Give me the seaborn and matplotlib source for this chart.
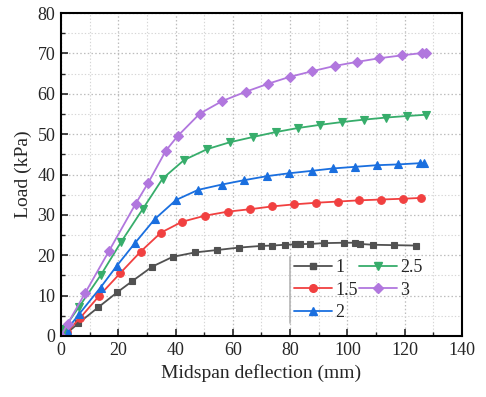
import numpy as np
import pandas as pd
import matplotlib
matplotlib.use("Agg")
import matplotlib.pyplot as plt
from matplotlib.ticker import MultipleLocator
from matplotlib.lines import Line2D
import seaborn as sns

# ---- data ----
labels = ["1", "1.5", "2", "2.5", "3"]

x1 = [0, 2.0, 6.0, 13.0, 19.6, 24.9, 31.9, 39.0, 46.8, 54.6, 62.2, 69.7, 73.8, 78.2,
      81.7, 83.4, 86.9, 91.7, 98.9, 102.6, 104.4, 108.8, 116.2, 123.8]
y1 = [0, 0.7, 3.1, 7.1, 10.8, 13.6, 17.2, 19.6, 20.7, 21.3, 21.9, 22.3, 22.4, 22.6,
      22.7, 22.75, 22.8, 23.0, 23.1, 23.1, 22.8, 22.6, 22.5, 22.4]

x15 = [0, 2.0, 6.6, 13.4, 20.6, 27.8, 34.9, 42.3, 50.3, 58.2, 66.0, 73.8, 81.4, 89.0,
       96.6, 104.1, 111.7, 119.5, 125.7]
y15 = [0, 1.0, 4.4, 10.0, 15.5, 20.9, 25.6, 28.3, 29.8, 30.8, 31.4, 32.1, 32.6, 33.0,
       33.3, 33.6, 33.8, 34.0, 34.2]

x2 = [0, 2.0, 6.3, 13.8, 19.4, 25.8, 32.8, 40.2, 47.9, 56.1, 64.0, 72.0, 79.6, 87.5,
      95.0, 102.6, 110.2, 117.7, 125.3, 126.7]
y2 = [0, 1.5, 5.4, 12.0, 17.3, 23.0, 29.0, 33.7, 36.2, 37.5, 38.6, 39.6, 40.3, 40.9,
      41.5, 41.9, 42.3, 42.5, 42.8, 42.8]

x25 = [0, 1.0, 6.2, 14.0, 21.0, 28.5, 35.5, 43.0, 51.1, 59.0, 67.1, 74.9, 82.6, 90.4,
       98.2, 105.9, 113.4, 120.9, 127.4]
y25 = [0, 1.8, 7.1, 15.2, 23.3, 31.4, 39.0, 43.6, 46.3, 48.0, 49.3, 50.5, 51.5, 52.3,
       53.0, 53.6, 54.1, 54.5, 54.8]

x3 = [0, 2.3, 8.4, 16.8, 26.1, 30.5, 36.6, 40.7, 48.5, 56.3, 64.5, 72.4, 79.9, 87.8,
      95.6, 103.4, 111.1, 118.9, 126.2, 127.6]
y3 = [0, 3.0, 10.6, 21.1, 32.8, 38.0, 45.9, 49.5, 55.1, 58.2, 60.5, 62.5, 64.2, 65.6,
      66.9, 67.9, 68.8, 69.5, 70.1, 70.1]

xs = [x1, x15, x2, x25, x3]
ys = [y1, y15, y2, y25, y3]

colors = ["#515151", "#F14040", "#1A6FDF", "#37AD6B", "#B177DE"]
markers = ["s", "o", "^", "v", "D"]
msizes = [5.0, 5.5, 5.8, 5.8, 5.0]

frames = []
for lab, xv, yv in zip(labels, xs, ys):
    frames.append(pd.DataFrame({"x": xv, "y": yv, "series": lab, "order": range(len(xv))}))
df = pd.concat(frames, ignore_index=True)

# ---- style ----
sns.set_style("white")
plt.rcParams["font.family"] = ["Liberation Serif", "DejaVu Serif"]
plt.rcParams["mathtext.fontset"] = "stix"

fig = plt.figure(figsize=(4.86, 3.97), dpi=100)
ax = fig.add_axes([0.1255, 0.1537, 0.8251, 0.8135])

for lab, c, m, ms in zip(labels, colors, markers, msizes):
    sub = df[df["series"] == lab]
    sns.lineplot(data=sub, x="x", y="y", ax=ax, sort=False, color=c, marker=m,
                 markersize=ms, markeredgecolor=c, markeredgewidth=0.8,
                 linewidth=1.3, label=lab, errorbar=None, estimator=None)

ax.set_xlim(0, 140)
ax.set_ylim(0, 80)
ax.xaxis.set_major_locator(MultipleLocator(20))
ax.xaxis.set_minor_locator(MultipleLocator(10))
ax.yaxis.set_major_locator(MultipleLocator(10))
ax.yaxis.set_minor_locator(MultipleLocator(5))

ax.grid(which="major", color="#bdbdbd", linestyle=(0, (1.2, 1.8)), linewidth=0.9)
ax.grid(which="minor", color="#d6d6d6", linestyle=(0, (1.2, 1.8)), linewidth=0.8)
ax.set_axisbelow(True)

for s in ax.spines.values():
    s.set_linewidth(1.5)
    s.set_color("black")

ax.tick_params(which="major", direction="in", length=5, width=1.2, labelsize=13,
               bottom=True, left=True, top=False, right=False, pad=4)
ax.tick_params(which="minor", direction="in", length=3, width=1.0,
               bottom=True, left=True, top=False, right=False)

ax.set_xlabel("Midspan deflection (mm)", fontsize=14, labelpad=4)
ax.set_ylabel("Load (kPa)", fontsize=14, labelpad=4)

handles = [Line2D([], [], color=c, marker=m, markersize=ms, linewidth=1.3,
                  markeredgecolor=c) for c, m, ms in zip(colors, markers, msizes)]
leg = ax.legend(handles, labels, ncol=2, loc="lower left",
                bbox_to_anchor=(0.572, 0.035), frameon=False, fontsize=13,
                handlelength=2.1, handletextpad=0.2, columnspacing=0.05,
                labelspacing=0.3, borderaxespad=0.0, borderpad=0.2)

# thin grey bar at the left edge of the legend box (as in the reference)
ax.add_line(Line2D([0.571, 0.571], [0.04, 0.245], transform=ax.transAxes,
                   color="#b5b5b5", linewidth=1.2))

fig.savefig("out.png", dpi=100)
